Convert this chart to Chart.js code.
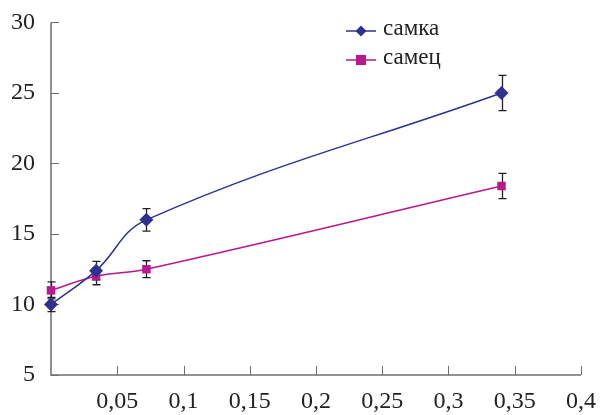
<!DOCTYPE html>
<html>
<head>
<meta charset="utf-8">
<script src="https://cdn.jsdelivr.net/npm/chart.js@4.4.1/dist/chart.umd.min.js"></script>
<style>
  html, body { margin: 0; padding: 0; background: #fff; }
  #wrap { width: 606px; height: 415px; }
</style>
</head>
<body>
<div id="wrap"><canvas id="weightChart" width="606" height="415"></canvas></div>
<script>
// data
const xValues = [0, 0.034, 0.072, 0.34];
const samkaValues = [10, 12.4, 16, 25];
const samkaErrors = [0.5, 0.65, 0.8, 1.25];
const samecValues = [11, 12, 12.5, 18.4];
const samecErrors = [0.6, 0.6, 0.6, 0.9];
const yTicks = [5, 10, 15, 20, 25, 30];
const xTicks = [0.05, 0.1, 0.15, 0.2, 0.25, 0.3, 0.35, 0.4];

const samkaColor = '#2E3192';
const samecColor = '#B8198C';
const axisColor = '#6d6d6d';
const font = 'Liberation Serif';

const toPoints = (ys) => xValues.map((x, i) => ({ x: x, y: ys[i] }));

// error bars + inward ticks + legend
const extras = {
  id: 'extras',
  beforeDatasetsDraw(chart) {
    const c = chart.ctx;
    const xs = chart.scales.x, ys = chart.scales.y;
    const area = chart.chartArea;
    c.save();
    c.strokeStyle = axisColor;
    c.lineWidth = 1.5;
    c.beginPath();
    c.moveTo(area.left, area.top);
    c.lineTo(area.left, area.bottom);
    c.lineTo(area.right, area.bottom);
    c.stroke();
    c.lineWidth = 1;
    yTicks.forEach(v => {
      const py = Math.round(ys.getPixelForValue(v)) + 0.5;
      c.beginPath(); c.moveTo(area.left, py); c.lineTo(area.left + 8, py); c.stroke();
    });
    xTicks.forEach(v => {
      const px = Math.round(xs.getPixelForValue(v)) + 0.5;
      c.beginPath(); c.moveTo(px, area.bottom); c.lineTo(px, area.bottom - 9); c.stroke();
    });

    // error bars
    c.strokeStyle = '#222';
    c.lineWidth = 1.3;
    [[samkaValues, samkaErrors], [samecValues, samecErrors]].forEach(([vals, errs]) => {
      vals.forEach((v, i) => {
        const px = Math.round(xs.getPixelForValue(xValues[i])) + 0.5;
        const top = ys.getPixelForValue(v + errs[i]);
        const bot = ys.getPixelForValue(v - errs[i]);
        c.beginPath();
        c.moveTo(px, top); c.lineTo(px, bot);
        c.moveTo(px - 4, top); c.lineTo(px + 4, top);
        c.moveTo(px - 4, bot); c.lineTo(px + 4, bot);
        c.stroke();
      });
    });
    c.restore();
  },
  afterDraw(chart) {
    const c = chart.ctx;
    const items = [
      { label: 'самка', color: samkaColor, y: 31, shape: 'diamond' },
      { label: 'самец', color: samecColor, y: 60, shape: 'square' }
    ];
    c.save();
    items.forEach(it => {
      c.strokeStyle = it.color;
      c.lineWidth = 1.5;
      c.beginPath(); c.moveTo(346, it.y); c.lineTo(376, it.y); c.stroke();
      c.fillStyle = it.color;
      if (it.shape === 'diamond') {
        c.beginPath();
        c.moveTo(361, it.y - 5.5); c.lineTo(366.5, it.y); c.lineTo(361, it.y + 5.5); c.lineTo(355.5, it.y);
        c.closePath(); c.fill();
      } else {
        c.fillRect(356, it.y - 5, 10, 10);
      }
      c.fillStyle = '#222';
      c.font = '23px "' + font + '"';
      c.textBaseline = 'middle';
      c.fillText(it.label, 383, it.y - 2);
    });
    c.restore();
  }
};

const ctx = document.getElementById('weightChart').getContext('2d');
const weightChart = new Chart(ctx, {
  type: 'line',
  data: {
    datasets: [
      {
        label: 'самка',
        data: toPoints(samkaValues),
        borderColor: samkaColor,
        backgroundColor: samkaColor,
        borderWidth: 1.5,
        pointStyle: 'rectRot',
        pointRadius: 7,
        pointBorderWidth: 0,
        tension: 0.4,
        fill: false
      },
      {
        label: 'самец',
        data: toPoints(samecValues),
        borderColor: samecColor,
        backgroundColor: samecColor,
        borderWidth: 1.5,
        pointStyle: 'rect',
        pointRadius: 6,
        pointBorderWidth: 0,
        tension: 0.4,
        fill: false
      }
    ]
  },
  options: {
    responsive: false,
    animation: false,
    clip: false,
    layout: { padding: { top: 0, right: 25, left: 0, bottom: 0 } },
    plugins: {
      legend: { display: false },
      tooltip: { enabled: false }
    },
    scales: {
      x: {
        type: 'linear',
        min: 0,
        max: 0.4,
        grid: { display: false },
        border: { display: false },
        ticks: {
          stepSize: 0.05,
          color: '#222',
          padding: 4,
          maxRotation: 0,
          font: { family: font, size: 24 },
          callback: function(value) {
            return value === 0 ? '' : String(+value.toFixed(2)).replace('.', ',');
          }
        },
        afterFit: function(scale) { scale.height = 40; }
      },
      y: {
        min: 5,
        max: 30,
        grid: { display: false },
        border: { display: false },
        ticks: {
          stepSize: 5,
          color: '#222',
          padding: 8,
          font: { family: font, size: 24 }
        },
        afterFit: function(scale) { scale.width = 51; }
      }
    }
  },
  plugins: [extras]
});
</script>
</body>
</html>
